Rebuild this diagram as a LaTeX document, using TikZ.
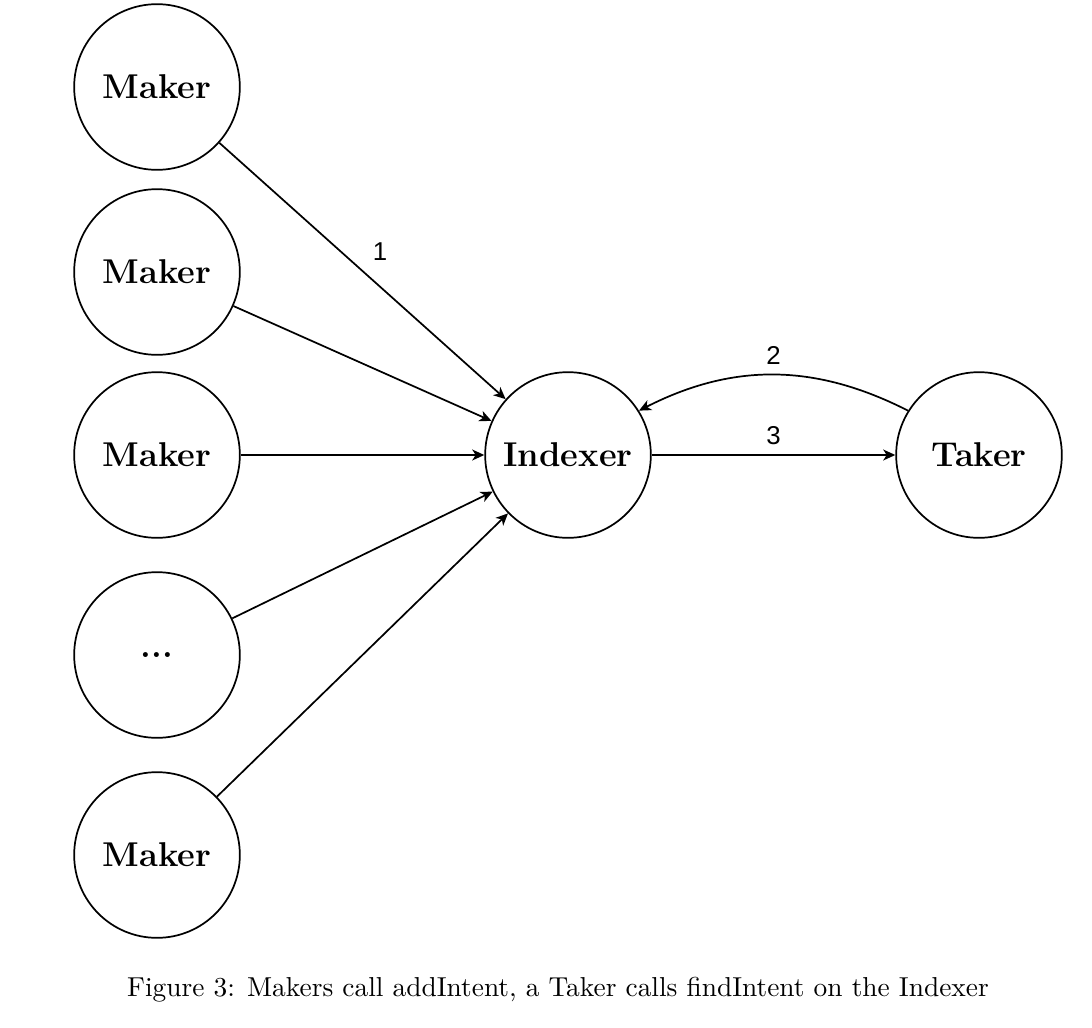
\documentclass[tikz,border=0pt]{standalone}
\usepackage{fontspec}
\newfontfamily\labelfont{Liberation Sans}
\usetikzlibrary{arrows.meta}
\begin{document}
\begin{tikzpicture}[x=0.01225cm, y=-0.01225cm,
	party/.style={circle, draw, semithick, minimum size=2.03cm, inner sep=0pt, font=\large\bfseries},
	call/.style={-{Stealth[length=4.2pt, width=3.8pt, inset=1.2pt]}, semithick},
	num/.style={font=\labelfont\small}]
	\useasboundingbox (0,0) rectangle (1092,1028);
	
	\node [party] (m1) at (157, 87) {Maker};			% Makers
	\node [party] (m2) at (157, 272) {Maker};
	\node [party] (m3) at (157, 455) {Maker};
	\node [party] (m4) at (157, 655) {...};
	\node [party] (m5) at (157, 855) {Maker};
	\node [party] (idx) at (568, 455) {Indexer};		% Indexer
	\node [party] (tk) at (979, 455) {Taker};			% Taker
	
	\draw [call] (m1) -- node [num, above right] {1} (idx);	% addIntent
	\draw [call] (m2) -- (idx);
	\draw [call] (m3) -- (idx);
	\draw [call] (m4) -- (idx);
	\draw [call] (m5) -- (idx);
	
	\draw [call] (tk.148) to [out=153, in=27] node [num, above] {2} (idx.32);	% findIntent
	\draw [call] (idx) -- node [num, above] {3} (tk);
	
	\node (cap) at (558, 990) {\fontsize{9.55}{11}\selectfont Figure 3: Makers call addIntent, a Taker calls findIntent on the Indexer};
\end{tikzpicture}
\end{document}
